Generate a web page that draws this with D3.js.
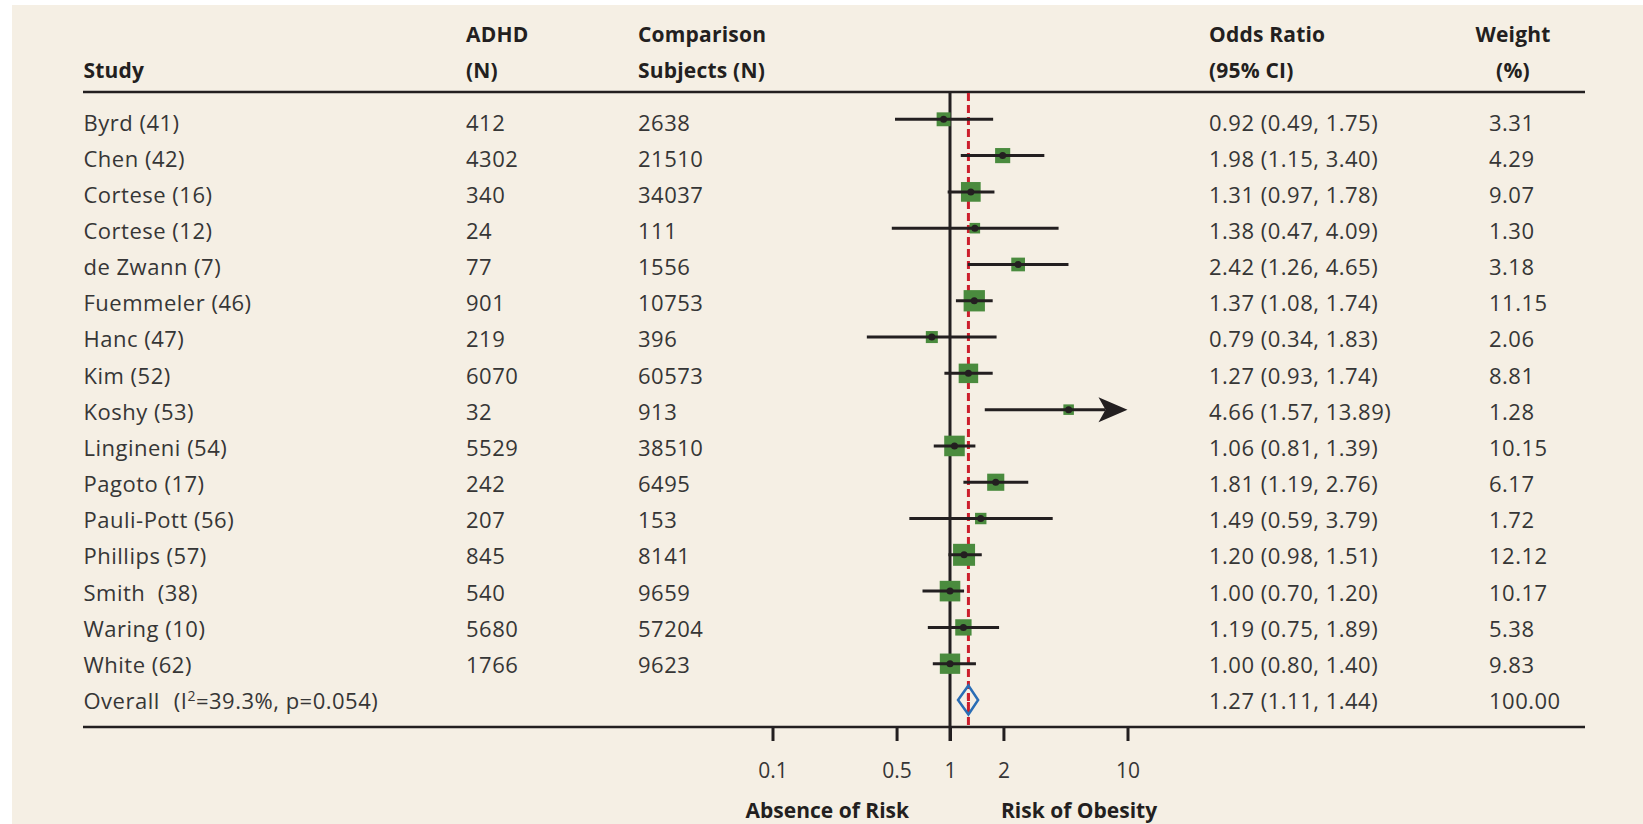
<!DOCTYPE html>
<html><head><meta charset="utf-8">
<script src="https://cdn.jsdelivr.net/npm/d3@7"></script>
<style>
body{margin:0;background:#fff;}
text{font-family:"Open Sans",sans-serif;}
</style></head><body><svg id="c" width="1643" height="824"></svg>
<script>
// ---- data ----
const studies = ["Byrd (41)", "Chen (42)", "Cortese (16)", "Cortese (12)", "de Zwann (7)", "Fuemmeler (46)", "Hanc (47)", "Kim (52)", "Koshy (53)", "Lingineni (54)", "Pagoto (17)", "Pauli-Pott (56)", "Phillips (57)", "Smith  (38)", "Waring (10)", "White (62)"];
const adhdN = [412, 4302, 340, 24, 77, 901, 219, 6070, 32, 5529, 242, 207, 845, 540, 5680, 1766];
const compN = [2638, 21510, 34037, 111, 1556, 10753, 396, 60573, 913, 38510, 6495, 153, 8141, 9659, 57204, 9623];
const oddsRatio = [0.92, 1.98, 1.31, 1.38, 2.42, 1.37, 0.79, 1.27, 4.66, 1.06, 1.81, 1.49, 1.20, 1.00, 1.19, 1.00];
const ciLow = [0.49, 1.15, 0.97, 0.47, 1.26, 1.08, 0.34, 0.93, 1.57, 0.81, 1.19, 0.59, 0.98, 0.70, 0.75, 0.80];
const ciHigh = [1.75, 3.40, 1.78, 4.09, 4.65, 1.74, 1.83, 1.74, 13.89, 1.39, 2.76, 3.79, 1.51, 1.20, 1.89, 1.40];
const weights = [3.31, 4.29, 9.07, 1.30, 3.18, 11.15, 2.06, 8.81, 1.28, 10.15, 6.17, 1.72, 12.12, 10.17, 5.38, 9.83];
const overallLabel = ["Overall", "(I", "2", "=39.3%, p=0.054)"];
const overall = {or: 1.27, lo: 1.11, hi: 1.44, weight: 100.00};
const headers1 = ["", "ADHD", "Comparison", "Odds Ratio", "Weight"];
const headers2 = ["Study", "(N)", "Subjects (N)", "(95% CI)", "(%)"];
const tickValues = [0.1, 0.5, 1, 2, 10];
const sideLabels = ["Absence of Risk", "Risk of Obesity"];

// ---- drawing ----
const svg = d3.select("#c");
const ink = "#231f20", txt = "#363636";
const FS = 22, LS = 0.5;
svg.append("rect").attr("x", 12).attr("y", 5).attr("width", 1631).attr("height", 819).attr("fill", "#f5efe4");

const x = d3.scaleLog().domain([0.1, 10]).range([772.5, 1127.5]);
const y = d3.scaleLinear().domain([0, studies.length]).range([119.3, 700]);
const ty = d3.scaleLinear().domain([0, studies.length]).range([130.5, 709]);
const size = d3.scaleSqrt().domain([0, d3.max(weights)]).range([5, 22]);
const f2 = d3.format(".2f");
const colX = [83.5, 466, 638, 1209, 1489];
const lineL = 83, lineR = 1585, topY = 92, axisY = 727;

// headers
const hdrAnchor = ["start", "start", "start", "start", "middle"];
const hdrX = [83.5, 466, 638, 1209, 1513];
[headers1, headers2].forEach((hs, k) => hs.forEach((h, i) => svg.append("text").attr("x", hdrX[i]).attr("y", k ? 78 : 42)
  .attr("text-anchor", hdrAnchor[i]).attr("font-size", 21).attr("font-weight", 700).attr("letter-spacing", 0.2).attr("fill", ink).text(h)));

svg.append("line").attr("x1", lineL).attr("x2", lineR).attr("y1", topY).attr("y2", topY).attr("stroke", ink).attr("stroke-width", 2.5);
svg.append("line").attr("x1", lineL).attr("x2", lineR).attr("y1", axisY).attr("y2", axisY).attr("stroke", ink).attr("stroke-width", 2.5);

// axis
const axis = d3.axisBottom(x).tickValues(tickValues).tickFormat(d => String(d)).tickSize(14).tickPadding(22);
const ag = svg.append("g").attr("transform", `translate(0,${axisY})`).call(axis);
ag.select(".domain").remove();
ag.selectAll(".tick line").attr("stroke", ink).attr("stroke-width", 3);
ag.selectAll(".tick text").attr("font-size", 21).attr("fill", txt).attr("font-family", '"Open Sans",sans-serif');

svg.append("text").attr("x", x(1) - 41).attr("y", 818).attr("text-anchor", "end").attr("font-size", 21).attr("font-weight", 700).attr("fill", ink).text(sideLabels[0]);
svg.append("text").attr("x", x(1) + 51).attr("y", 818).attr("text-anchor", "start").attr("font-size", 21).attr("font-weight", 700).attr("fill", ink).text(sideLabels[1]);

// reference lines
svg.append("line").attr("x1", x(1)).attr("x2", x(1)).attr("y1", topY).attr("y2", axisY + 14).attr("stroke", ink).attr("stroke-width", 3);
svg.append("line").attr("x1", x(overall.or)).attr("x2", x(overall.or)).attr("y1", topY + 1).attr("y2", axisY).attr("stroke", "#cc1f2d").attr("stroke-width", 3).attr("stroke-dasharray", "8,4");

// rows
studies.forEach((s, i) => {
  const cy = y(i), by = ty(i);
  const vals = [s, adhdN[i], compN[i], `${f2(oddsRatio[i])} (${f2(ciLow[i])}, ${f2(ciHigh[i])})`, f2(weights[i])];
  vals.forEach((v, j) => svg.append("text").attr("x", colX[j]).attr("y", by).attr("font-size", FS).attr("letter-spacing", LS).attr("fill", txt)
    .style("white-space", "pre").text(v));
  const sd = size(weights[i]);
  svg.append("rect").attr("x", x(oddsRatio[i]) - sd / 2).attr("y", cy - sd / 2).attr("width", sd).attr("height", sd).attr("fill", "#4a8b3e");
  const over = ciHigh[i] > x.domain()[1];
  const hiC = Math.min(ciHigh[i], x.domain()[1]);
  svg.append("line").attr("x1", x(ciLow[i])).attr("x2", over ? x(hiC) - 22 : x(hiC)).attr("y1", cy).attr("y2", cy).attr("stroke", ink).attr("stroke-width", 3);
  if (over) {
    const tx = x(hiC);
    svg.append("path").attr("d", `M${tx},${cy} L${tx - 29},${cy - 12.5} L${tx - 22},${cy} L${tx - 29},${cy + 12.5} Z`).attr("fill", ink);
  }
  svg.append("circle").attr("cx", x(oddsRatio[i])).attr("cy", cy).attr("r", 3.5).attr("fill", ink);
});

// overall row
const oy = y(studies.length), oby = ty(studies.length);
const ot = svg.append("text").attr("x", colX[0]).attr("y", oby).attr("font-size", FS).attr("letter-spacing", LS).attr("fill", txt);
ot.append("tspan").text(overallLabel[0]);
ot.append("tspan").attr("dx", 14).text(overallLabel[1]);
ot.append("tspan").attr("dy", -8).attr("font-size", 14).text(overallLabel[2]);
ot.append("tspan").attr("dy", 8).text(overallLabel[3]);
svg.append("text").attr("x", colX[3]).attr("y", oby).attr("font-size", FS).attr("letter-spacing", LS).attr("fill", txt)
  .text(`${f2(overall.or)} (${f2(overall.lo)}, ${f2(overall.hi)})`);
svg.append("text").attr("x", colX[4]).attr("y", oby).attr("font-size", FS).attr("letter-spacing", LS).attr("fill", txt).text(f2(overall.weight));
svg.append("path").attr("d", `M${x(overall.lo)},${oy} L${x(overall.or)},${oy - 14.5} L${x(overall.hi)},${oy} L${x(overall.or)},${oy + 14.5} Z`)
  .attr("fill", "none").attr("stroke", "#2a6db5").attr("stroke-width", 2.5);
svg.append("line").attr("x1", x(overall.or)).attr("x2", x(overall.or)).attr("y1", oy - 6).attr("y2", oy + 6).attr("stroke", "#cc1f2d").attr("stroke-width", 3).attr("stroke-dasharray", "5,3");
</script></body></html>
